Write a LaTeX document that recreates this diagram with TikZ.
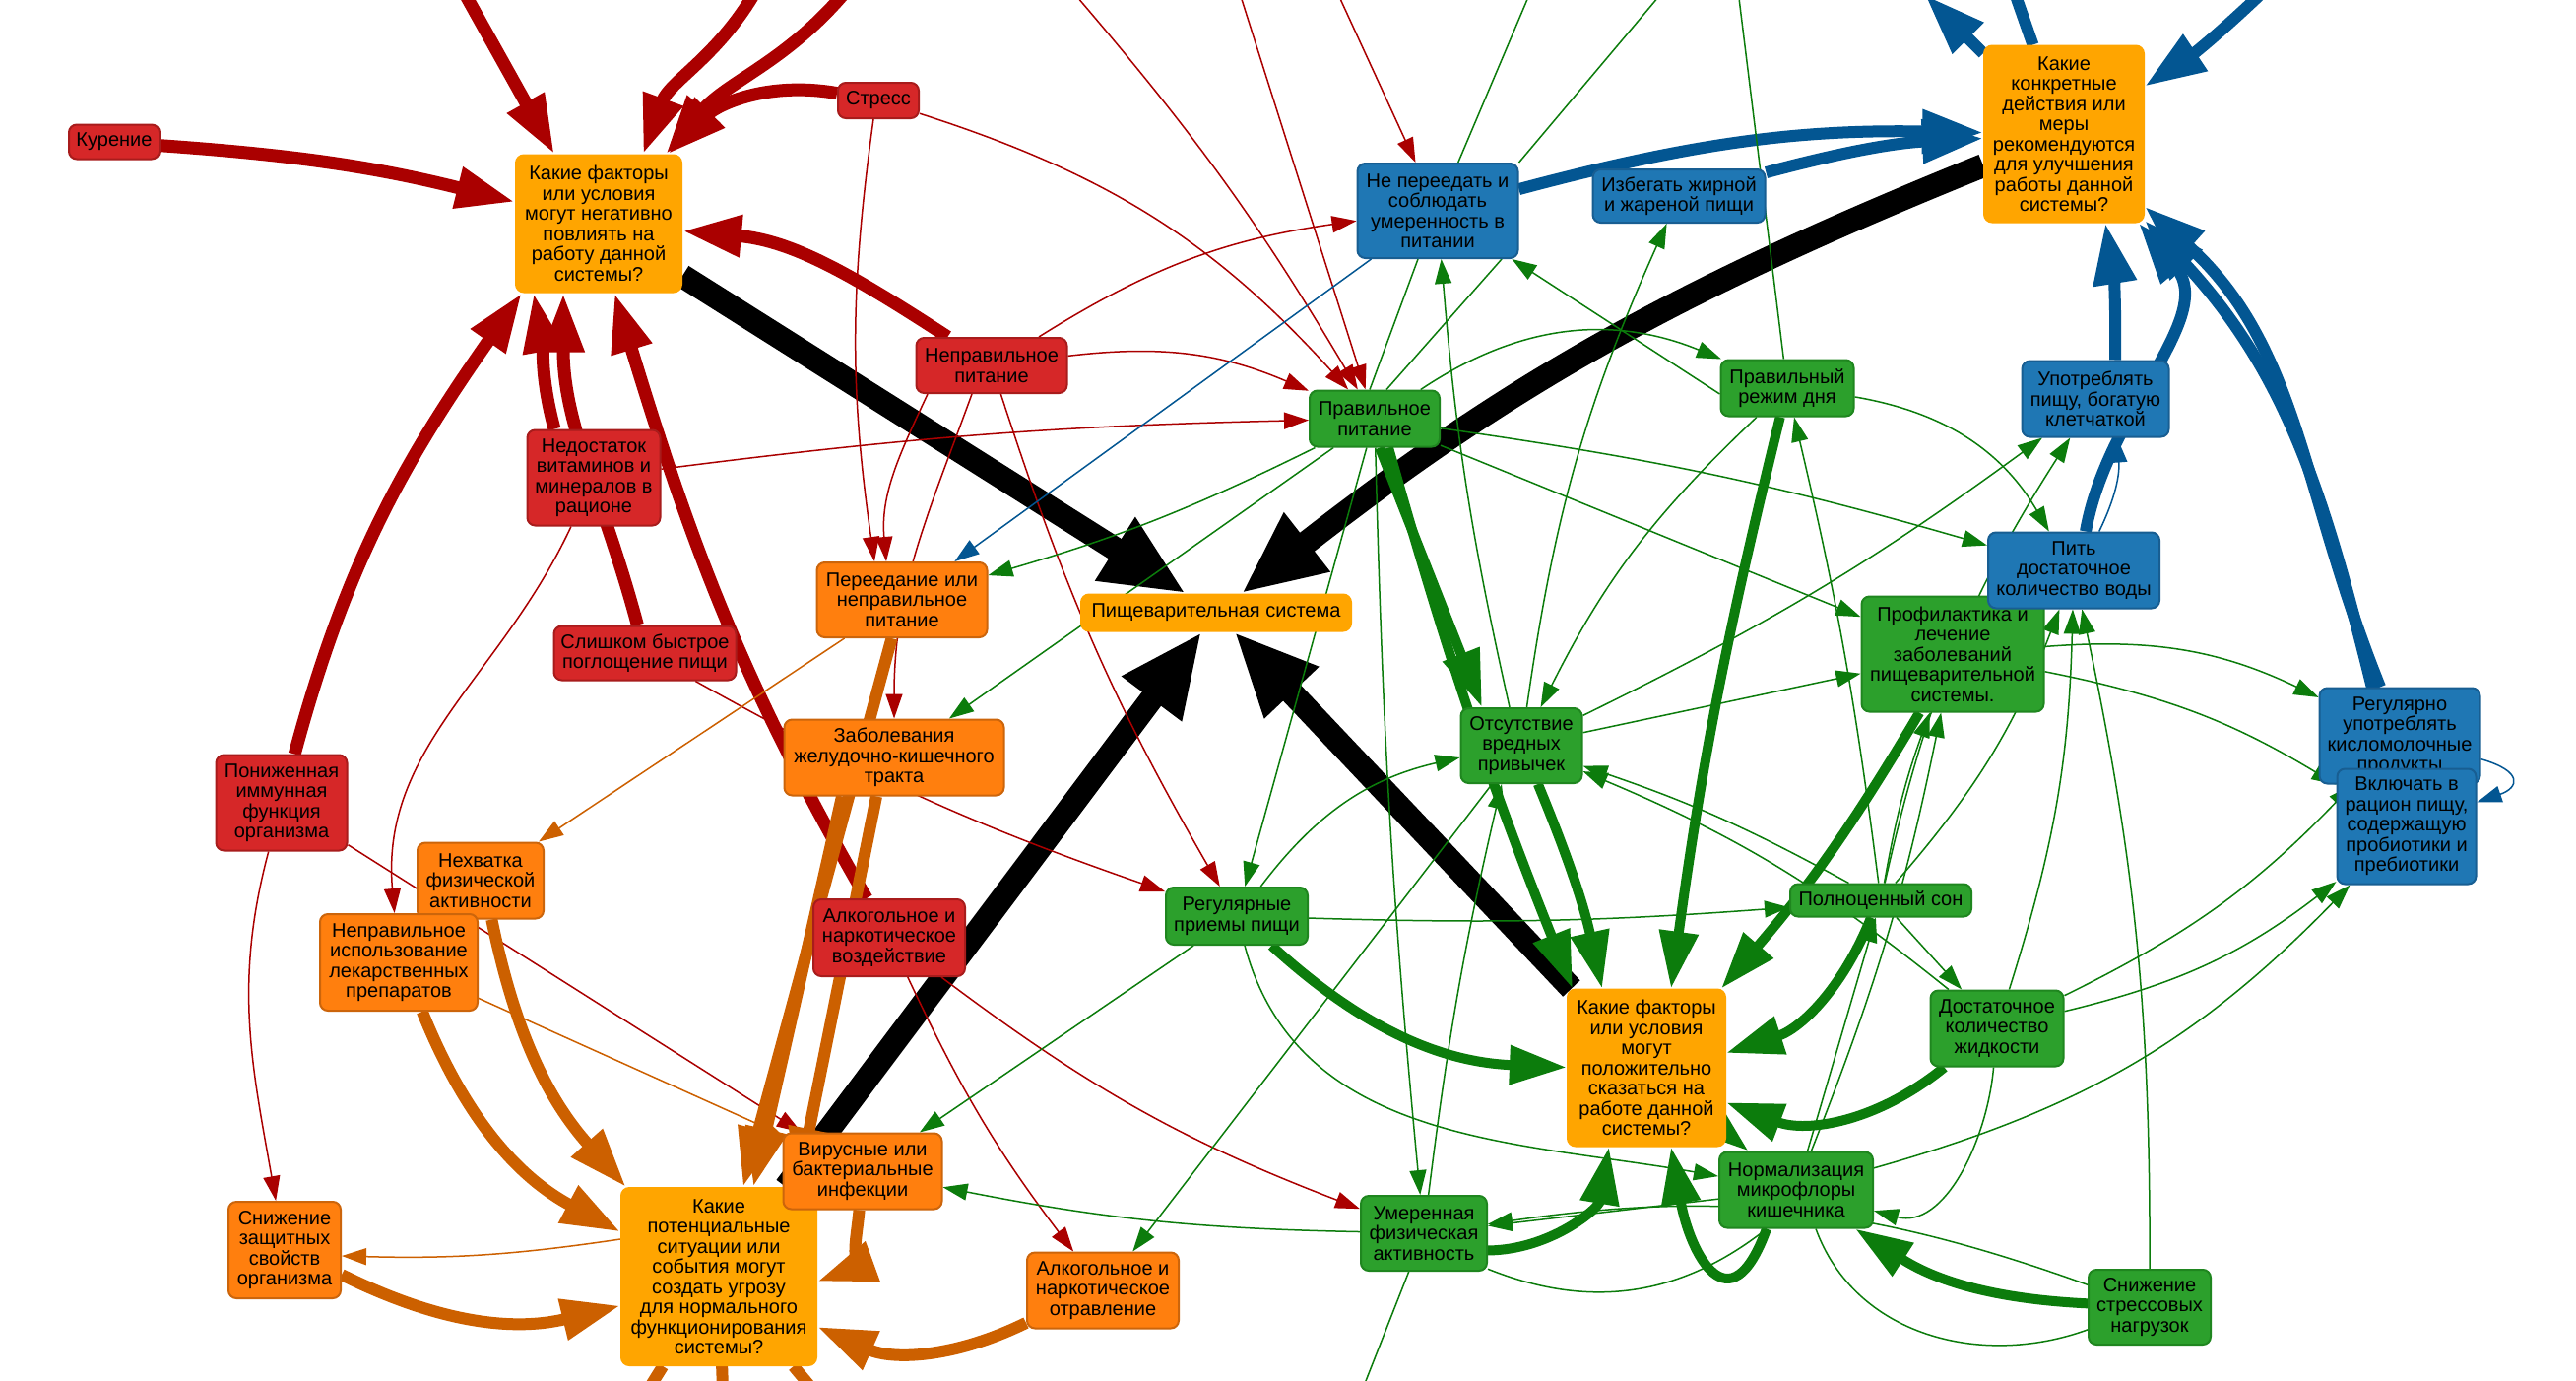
\documentclass[tikz,border=0pt]{standalone}
\usepackage{fontspec}
\setmainfont{Liberation Sans}
\usetikzlibrary{arrows.meta,positioning}

\definecolor{nRed}{HTML}{D62728}
\definecolor{nRedB}{HTML}{A81C1C}
\definecolor{nOrg}{HTML}{FF7F0E}
\definecolor{nOrgB}{HTML}{CC650B}
\definecolor{nGold}{HTML}{FFA500}
\definecolor{nGrn}{HTML}{2CA02C}
\definecolor{nGrnB}{HTML}{1F861F}
\definecolor{nBlu}{HTML}{1F77B4}
\definecolor{nBluB}{HTML}{185E92}
\definecolor{eRed}{HTML}{AA0000}
\definecolor{eOrg}{HTML}{CC6000}
\definecolor{eGrn}{HTML}{0C7C0C}
\definecolor{eBlu}{HTML}{035692}

\pgfdeclarelayer{edges}
\pgfsetlayers{edges,main}

\tikzset{
    box/.style={rounded corners=8pt, line width=2pt, align=center, inner sep=1pt,
        text=black, font=\fontsize{20}{20.5}\selectfont},
    rednode/.style={box, fill=nRed, draw=nRedB},
    orgnode/.style={box, fill=nOrg, draw=nOrgB},
    goldnode/.style={box, fill=nGold, draw=nGold},
    grnnode/.style={box, fill=nGrn, draw=nGrnB},
    blunode/.style={box, fill=nBlu, draw=nBluB},
    blkthick/.style={draw=black, line width=24pt, -{Triangle[length=85pt,width=70pt]}},
    redthick/.style={draw=eRed, line width=13pt, -{Triangle[length=60pt,width=40pt]}},
    redthin/.style={draw=eRed, line width=1.5pt, -{Triangle[length=25pt,width=17pt]}},
    orgthick/.style={draw=eOrg, line width=12pt, -{Triangle[length=60pt,width=40pt]}},
    orgthin/.style={draw=eOrg, line width=1.5pt, -{Triangle[length=25pt,width=17pt]}},
    grnthick/.style={draw=eGrn, line width=10pt, -{Triangle[length=58pt,width=38pt]}},
    grnthin/.style={draw=eGrn, line width=1.5pt, -{Triangle[length=25pt,width=17pt]}},
    bluthick/.style={draw=eBlu, line width=12pt, -{Triangle[length=62pt,width=42pt]}},
    bluthin/.style={draw=eBlu, line width=1.5pt, -{Triangle[length=25pt,width=17pt]}},
}

\begin{document}
\begin{tikzpicture}[x=1pt,y=1pt]

    \useasboundingbox (0,0) rectangle (2616,-1401);

    %red nodes
    \node[rednode, minimum width=92, minimum height=35] (kur) at (116,-144) {Курение};
    \node[rednode, minimum width=82, minimum height=36] (stress) at (892,-102) {Стресс};
    \node[rednode, minimum width=153, minimum height=56] (nepit) at (1007,-371) {Неправильное\\питание};
    \node[rednode, minimum width=135, minimum height=97] (nedost) at (603,-485) {Недостаток\\витаминов и\\минералов в\\рационе};
    \node[rednode, minimum width=185, minimum height=55] (bystr) at (655,-663) {Слишком быстрое\\поглощение пищи};
    \node[rednode, minimum width=133, minimum height=97] (immun) at (286,-815) {Пониженная\\иммунная\\функция\\организма};
    \node[rednode, minimum width=154, minimum height=78] (alkvoz) at (903,-952) {Алкогольное и\\наркотическое\\воздействие};

    %question nodes
    \node[goldnode, minimum width=168, minimum height=139] (negq) at (608,-227) {Какие факторы\\или условия\\могут негативно\\повлиять на\\работу данной\\системы?};
    \node[goldnode, minimum width=198, minimum height=180] (threatq) at (730,-1296) {Какие\\потенциальные\\ситуации или\\события могут\\создать угрозу\\для нормального\\функционирования\\системы?};
    \node[goldnode, minimum width=274, minimum height=37] (psys) at (1235,-622) {Пищеварительная система};
    \node[goldnode, minimum width=160, minimum height=159] (posq) at (1672,-1084) {Какие факторы\\или условия\\могут\\положительно\\сказаться на\\работе данной\\системы?};
    \node[goldnode, minimum width=162, minimum height=179] (actq) at (2096,-136) {Какие\\конкретные\\действия или\\меры\\рекомендуются\\для улучшения\\работы данной\\системы?};

    %orange nodes
    \node[orgnode, minimum width=173, minimum height=76] (pereed) at (916,-609) {Переедание или\\неправильное\\питание};
    \node[orgnode, minimum width=223, minimum height=77] (zabol) at (908,-769) {Заболевания\\желудочно-кишечного\\тракта};
    \node[orgnode, minimum width=128, minimum height=77] (nehv) at (488,-894) {Нехватка\\физической\\активности};
    \node[orgnode, minimum width=160, minimum height=98] (lekar) at (405,-977) {Неправильное\\использование\\лекарственных\\препаратов};
    \node[orgnode, minimum width=114, minimum height=98] (snizh) at (289,-1269) {Снижение\\защитных\\свойств\\организма};
    \node[orgnode, minimum width=161, minimum height=77] (virus) at (876,-1189) {Вирусные или\\бактериальные\\инфекции};
    \node[orgnode, minimum width=154, minimum height=77] (alkotr) at (1120,-1310) {Алкогольное и\\наркотическое\\отравление};

    %green nodes
    \node[grnnode, minimum width=132, minimum height=57] (prpit) at (1396,-425) {Правильное\\питание};
    \node[grnnode, minimum width=135, minimum height=57] (rezhim) at (1815,-394) {Правильный\\режим дня};
    \node[grnnode, minimum width=123, minimum height=76] (otsut) at (1545,-757) {Отсутствие\\вредных\\привычек};
    \node[grnnode, minimum width=185, minimum height=117] (profil) at (1983,-664) {Профилактика и\\лечение\\заболеваний\\пищеварительной\\системы.};
    \node[grnnode, minimum width=144, minimum height=58] (regpr) at (1256,-930) {Регулярные\\приемы пищи};
    \node[grnnode, minimum width=184, minimum height=33] (son) at (1910,-914) {Полноценный сон};
    \node[grnnode, minimum width=135, minimum height=77] (zhidk) at (2028,-1044) {Достаточное\\количество\\жидкости};
    \node[grnnode, minimum width=156, minimum height=77] (normal) at (1824,-1208) {Нормализация\\микрофлоры\\кишечника};
    \node[grnnode, minimum width=128, minimum height=76] (umer) at (1446,-1252) {Умеренная\\физическая\\активность};
    \node[grnnode, minimum width=124, minimum height=76] (snstr) at (2183,-1327) {Снижение\\стрессовых\\нагрузок};

    %blue nodes
    \node[blunode, minimum width=163, minimum height=96] (nepere) at (1460,-214) {Не переедать и\\соблюдать\\умеренность в\\питании};
    \node[blunode, minimum width=175, minimum height=54] (izbeg) at (1705,-199) {Избегать жирной\\и жареной пищи};
    \node[blunode, minimum width=149, minimum height=77] (kletch) at (2128,-405) {Употреблять\\пищу, богатую\\клетчаткой};
    \node[blunode, minimum width=174, minimum height=77] (voda) at (2106,-579) {Пить\\достаточное\\количество воды};
    \node[blunode, minimum width=163, minimum height=97] (kislo) at (2437,-747) {Регулярно\\употреблять\\кисломолочные\\продукты};
    \node[blunode, minimum width=141, minimum height=117] (probio) at (2444,-839) {Включать в\\рацион пищу,\\содержащую\\пробиотики и\\пребиотики};

    %ends outside the picture
    \coordinate (topR1) at (470,10);
    \coordinate (topR2) at (768,10);
    \coordinate (topR3) at (860,10);
    \coordinate (topr1) at (1088,10);
    \coordinate (topr2) at (1258,10);
    \coordinate (topr3) at (1357,10);
    \coordinate (topg1) at (1555,10);
    \coordinate (topg2) at (1690,10);
    \coordinate (topg3) at (1765,10);
    \coordinate (topB1) at (1955,5);
    \coordinate (topB2) at (2045,10);
    \coordinate (topB3) at (2300,10);
    \coordinate (botO1) at (640,-1440);
    \coordinate (botO2) at (735,-1440);
    \coordinate (botO3) at (850,-1440);
    \coordinate (botg1) at (1372,-1440);

    \begin{pgfonlayer}{edges}
    \fill[white] (0,0) rectangle (2616,-1401);

    %black lines to the system
    \draw[blkthick] (negq) -- (psys);
    \draw[blkthick] (actq) to[bend right=8] (psys);
    \draw[blkthick] (threatq) -- (psys);
    \draw[blkthick] (posq) -- (psys);

    %thick red lines
    \draw[redthick] (kur) to[bend left=5] (negq);
    \draw[redthick] (stress) to[out=170,in=45] (negq);
    \draw[redthick] (nepit) to[out=147,in=-5] (negq);
    \draw[redthick] (bystr) to[out=105,in=-90] ([xshift=-36pt]negq.south);
    \draw[redthick] ([xshift=-40pt]nedost.north) to[out=105,in=-80] ([xshift=-66pt]negq.south);
    \draw[redthick] (immun) to[out=75,in=-125] ([xshift=-78pt]negq.south);
    \draw[redthick] (alkvoz) to[out=120,in=-73] ([xshift=16pt]negq.south);
    \draw[redthick] (topR1) -- ([xshift=-45pt]negq.north);
    \draw[redthick] (topR2) to[out=-120,in=70] ([xshift=45pt]negq.north);
    \draw[redthick] (topR3) to[out=-130,in=50] ([xshift=68pt]negq.north);

    %thin red lines
    \draw[redthin] (stress) to[bend left=15] (prpit);
    \draw[redthin] ([xshift=-5pt]stress.south) to[bend right=8] ([xshift=-28pt]pereed.north);
    \draw[redthin] ([xshift=-65pt]nepit.south) to[out=-115,in=95] ([xshift=-16pt]pereed.north);
    \draw[redthin] ([xshift=-20pt]nepit.south) to[out=-110,in=90] (zabol);
    \draw[redthin] (nepit) to[bend left=15] (prpit);
    \draw[redthin] (nepit) to[bend left=12] (nepere);
    \draw[redthin] (nepit) to[bend right=6] (regpr);
    \draw[redthin] (nedost) to[bend left=3] (prpit);
    \draw[redthin] (nedost) to[out=-115,in=95] (lekar);
    \draw[redthin] (immun) to[out=-105,in=100] (snizh);
    \draw[redthin] (immun) -- (virus);
    \draw[redthin] (alkvoz) to[bend right=6] (alkotr);
    \draw[redthin] (alkvoz) to[bend right=8] (umer);
    \draw[redthin] (bystr) to[bend right=5] (regpr);
    \draw[redthin] (topr1) to[bend left=5] (prpit);
    \draw[redthin] (topr2) -- (prpit);
    \draw[redthin] (topr3) -- (nepere);

    %orange lines
    \draw[orgthick] (pereed) -- (threatq);
    \draw[orgthick] ([xshift=-53pt]zabol.south) -- ([xshift=35pt]threatq.north);
    \draw[orgthick] ([xshift=-18pt]zabol.south) -- ([xshift=80pt]threatq.north);
    \draw[orgthick] (virus) to[out=-95,in=20] ([yshift=-5pt]threatq.east);
    \draw[orgthick] (nehv) to[bend right=15] (threatq);
    \draw[orgthick] (lekar) to[bend right=20] (threatq);
    \draw[orgthick] (snizh) to[bend right=20] (threatq);
    \draw[orgthick] (alkotr) to[bend left=25] (threatq);
    \draw[orgthick,-] (threatq) -- (botO1);
    \draw[orgthick,-] (threatq) -- (botO2);
    \draw[orgthick,-] (threatq) -- (botO3);
    \draw[orgthin] ([yshift=38pt]threatq.west) to[bend left=5] ([yshift=-6pt]snizh.east);
    \draw[orgthin] (lekar) -- (virus);
    \draw[orgthin] (pereed) -- (nehv);

    %blue lines
    \draw[bluthick] (nepere) to[bend left=8] (actq);
    \draw[bluthick] (izbeg) to[bend left=6] (actq);
    \draw[bluthick] ([xshift=20pt]kletch.north) to[bend right=5] ([xshift=42pt]actq.south);
    \draw[bluthick] ([xshift=12pt]voda.north) to[out=80,in=-50] (actq);
    \draw[bluthick] (kislo) to[out=112,in=-42] (actq);
    \draw[bluthick] (probio) to[out=104,in=-47] (actq);
    \draw[bluthick] (actq) -- (topB1);
    \draw[bluthick,-] (topB2) -- (actq);
    \draw[bluthick] (topB3) to[bend left=5] (actq);
    \draw[bluthin] (nepere) -- (pereed);
    \draw[bluthin] (voda) to[bend right=15] ([xshift=22pt]kletch.south);
    \draw[bluthin] (kislo.-16) .. controls +(-16:45) and +(19:45) .. (probio.19);

    %thick green lines
    \draw[grnthick] ([xshift=5pt]prpit.south) -- ([xshift=-40pt]otsut.north);
    \draw[grnthick] ([xshift=14pt]prpit.south) to[bend right=3] ([xshift=-75pt]posq.north);
    \draw[grnthick] (otsut) to[bend left=5] ([xshift=-45pt]posq.north);
    \draw[grnthick] (rezhim) to[bend right=3] ([xshift=25pt]posq.north);
    \draw[grnthick] (profil) to[bend left=5] ([xshift=-5pt]posq.north east);
    \draw[grnthick] (regpr) to[bend right=20] (posq);
    \draw[grnthick] (son) to[bend left=25] (posq);
    \draw[grnthick] (zhidk) to[bend left=30] (posq);
    \draw[grnthick] (posq) -- (normal);
    \draw[grnthick] ([xshift=-30pt]normal.south) to[out=-110,in=-80,looseness=2.2] ([xshift=25pt]posq.south);
    \draw[grnthick] (umer) to[bend right=40] ([xshift=-38pt]posq.south);
    \draw[grnthick] (snstr) to[bend left=15] (normal);

    %thin green lines
    \draw[grnthin] (prpit) to[bend left=5] (pereed);
    \draw[grnthin] (prpit) -- (zabol);
    \draw[grnthin] (prpit) -- (regpr);
    \draw[grnthin] (prpit) to[bend left=28] (rezhim);
    \draw[grnthin] (prpit) -- (profil);
    \draw[grnthin] (prpit) to[bend left=4] (voda);
    \draw[grnthin] (prpit) to[bend right=2] (umer);
    \draw[grnthin,-] ([xshift=-5pt]prpit.north) -- ([xshift=-20pt]nepere.south);
    \draw[grnthin,-] ([xshift=12pt]prpit.north) -- ([xshift=65pt]nepere.south);
    \draw[grnthin] ([xshift=-12pt]otsut.north) to[bend left=4] (nepere);
    \draw[grnthin] (otsut) to[bend left=8] (izbeg);
    \draw[grnthin] (otsut) -- (profil);
    \draw[grnthin] (otsut) to[bend right=5] (kletch);
    \draw[grnthin] (otsut) -- (alkotr);
    \draw[grnthin] ([yshift=-6pt]rezhim.west) -- (nepere);
    \draw[grnthin] (rezhim) to[bend left=25] (voda);
    \draw[grnthin] (rezhim) to[bend right=10] (otsut);
    \draw[grnthin] (profil) to[bend left=15] (kislo);
    \draw[grnthin] (profil) to[bend left=10] (probio);
    \draw[grnthin] (regpr) to[bend left=20] (otsut);
    \draw[grnthin] (regpr) -- (virus);
    \draw[grnthin] (regpr) to[bend right=3] (son);
    \draw[grnthin] (regpr) to[out=-75,in=170] (normal);
    \draw[grnthin] (son) to[bend right=5] (otsut);
    \draw[grnthin] (son) to[bend right=3] (rezhim);
    \draw[grnthin] (son) to[bend right=10] (voda);
    \draw[grnthin] (son) to[bend left=5] (profil);
    \draw[grnthin] (son) to[bend left=10] (kletch);
    \draw[grnthin] (son) -- (zhidk);
    \draw[grnthin] (zhidk) to[bend right=8] (otsut);
    \draw[grnthin] (zhidk) to[bend right=8] (voda);
    \draw[grnthin] (zhidk) to[out=-95,in=-15] (normal);
    \draw[grnthin] (zhidk) to[bend right=10] (kislo);
    \draw[grnthin] (zhidk) to[bend right=12] (probio);
    \draw[grnthin] (normal) -- (umer);
    \draw[grnthin] (normal) -- (son);
    \draw[grnthin] (normal) to[bend right=5] (profil);
    \draw[grnthin] (normal) to[bend right=15] (probio);
    \draw[grnthin] (umer) to[bend left=3] ([xshift=-20pt]otsut.south);
    \draw[grnthin] (umer) to[bend left=5] (virus);
    \draw[grnthin,-] (umer) to[bend right=30] ([xshift=-30pt]normal.south);
    \draw[grnthin] (snstr) to[bend right=6] (voda);
    \draw[grnthin] (snstr) to[bend right=14] (umer);
    \draw[grnthin,-] (snstr) to[out=200,in=-70] ([xshift=20pt]normal.south);
    \draw[grnthin,-] (umer) -- (botg1);
    \draw[grnthin,-] (nepere) -- (topg1);
    \draw[grnthin,-] (nepere.north east) -- (topg2);
    \draw[grnthin,-] (rezhim) -- (topg3);
    \end{pgfonlayer}

\end{tikzpicture}
\end{document}
